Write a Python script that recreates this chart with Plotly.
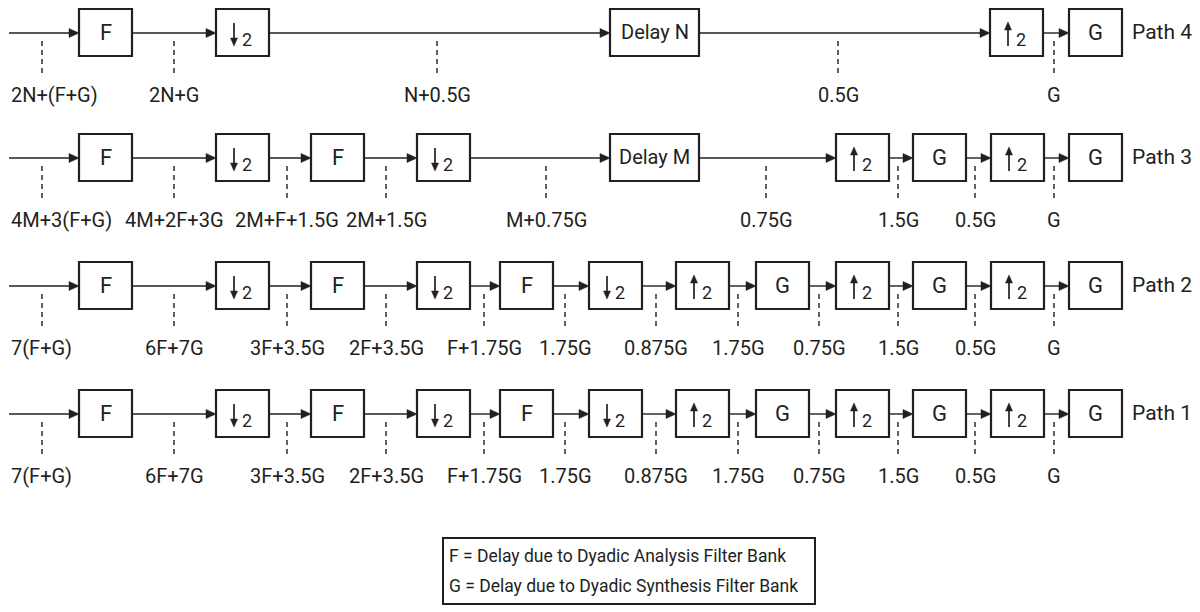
import plotly.graph_objects as go

# ---------------- data ----------------
path_names = ["Path 4", "Path 3", "Path 2", "Path 1"]

path4_blocks = ["F", "↓2", "Delay N", "↑2", "G"]
path4_delays = ["2N+(F+G)", "2N+G", "N+0.5G", "0.5G", "G"]

path3_blocks = ["F", "↓2", "F", "↓2", "Delay M", "↑2", "G", "↑2", "G"]
path3_delays = ["4M+3(F+G)", "4M+2F+3G", "2M+F+1.5G", "2M+1.5G", "M+0.75G",
                "0.75G", "1.5G", "0.5G", "G"]

path2_blocks = ["F", "↓2", "F", "↓2", "F", "↓2", "↑2", "G", "↑2", "G", "↑2", "G"]
path2_delays = ["7(F+G)", "6F+7G", "3F+3.5G", "2F+3.5G", "F+1.75G", "1.75G",
                "0.875G", "1.75G", "0.75G", "1.5G", "0.5G", "G"]

path1_blocks = ["F", "↓2", "F", "↓2", "F", "↓2", "↑2", "G", "↑2", "G", "↑2", "G"]
path1_delays = ["7(F+G)", "6F+7G", "3F+3.5G", "2F+3.5G", "F+1.75G", "1.75G",
                "0.875G", "1.75G", "0.75G", "1.5G", "0.5G", "G"]

legend_lines = ["F = Delay due to Dyadic Analysis Filter Bank",
                "G = Delay due to Dyadic Synthesis Filter Bank"]

# ---------------- layout (pixel-space placement) ----------------
PAGE_OFF = 8                     # default body margin of the html page
W, H = 1200, 612
row_y = [33, 158, 286, 414]
box_left = [
    [79, 216, 610, 990, 1069],
    [79, 216, 311, 417, 610, 836, 913, 991, 1069],
    [79, 216, 311, 417, 500, 589, 676, 756, 836, 913, 991, 1069],
    [79, 216, 311, 417, 500, 589, 676, 756, 836, 913, 991, 1069],
]
tap_x = [
    [42, 174, 437, 838, 1054],
    [42, 174, 287, 386, 546, 766, 898, 975, 1054],
    [42, 174, 287, 386, 484, 565, 656, 738, 819, 898, 975, 1054],
    [42, 174, 287, 386, 484, 565, 656, 738, 819, 898, 975, 1054],
]
blocks_all = [path4_blocks, path3_blocks, path2_blocks, path1_blocks]
delays_all = [path4_delays, path3_delays, path2_delays, path1_delays]

INK = "#231f20"
FONT = "Roboto, Arial, sans-serif"
FS = 20
start_x = 9
box_w = 53
delay_w = 89
box_up, box_dn = 24, 23

shapes = []
annos = []


def tri(xt, yt, direction, length=9, half=4):
    if direction == "right":
        p = f"M{xt},{yt} L{xt-length},{yt-half} L{xt-length},{yt+half} Z"
    elif direction == "down":
        p = f"M{xt},{yt} L{xt-half},{yt-length} L{xt+half},{yt-length} Z"
    else:
        p = f"M{xt},{yt} L{xt-half},{yt+length} L{xt+half},{yt+length} Z"
    shapes.append(dict(type="path", path=p, xref="x", yref="y",
                       fillcolor=INK, line=dict(color=INK, width=0.5)))


for r in range(4):
    y = row_y[r]
    prev_right = start_x
    for blk, bx in zip(blocks_all[r], box_left[r]):
        is_delay = blk.startswith("Delay")
        w = delay_w if is_delay else box_w
        shapes.append(dict(type="line", x0=prev_right, x1=bx - 2, y0=y, y1=y,
                           xref="x", yref="y", line=dict(color=INK, width=1.4)))
        tri(bx, y, "right", length=10, half=4.5)
        shapes.append(dict(type="rect", x0=bx, x1=bx + w, y0=y - box_up, y1=y + box_dn,
                           xref="x", yref="y", line=dict(color=INK, width=2.2),
                           fillcolor="white"))
        cx = bx + w / 2
        if blk in ("↓2", "↑2"):
            ax = bx + 18
            if blk == "↓2":
                shapes.append(dict(type="line", x0=ax, x1=ax, y0=y - 10, y1=y + 6,
                                   xref="x", yref="y", line=dict(color=INK, width=1.7)))
                tri(ax, y + 13, "down", length=8, half=3.5)
            else:
                shapes.append(dict(type="line", x0=ax, x1=ax, y0=y - 4, y1=y + 13,
                                   xref="x", yref="y", line=dict(color=INK, width=1.7)))
                tri(ax, y - 11, "up", length=8, half=3.5)
            annos.append(dict(x=bx + 31, y=y + 6, text="2", showarrow=False,
                              xref="x", yref="y", xanchor="center", yanchor="middle",
                              font=dict(family=FONT, size=18, color=INK)))
        else:
            annos.append(dict(x=cx, y=y - 1, text=blk, showarrow=False,
                              xref="x", yref="y", xanchor="center", yanchor="middle",
                              font=dict(family=FONT, size=FS if is_delay else 22,
                                        color=INK)))
        prev_right = bx + w
    for i, (lab, tx) in enumerate(zip(delays_all[r], tap_x[r])):
        shapes.append(dict(type="line", x0=tx, x1=tx, y0=y + 8, y1=y + 44,
                           xref="x", yref="y",
                           line=dict(color=INK, width=1.4, dash="5px,4px")))
        if i == 0:
            annos.append(dict(x=9, y=y + 62, text=lab, showarrow=False,
                              xref="x", yref="y", xanchor="left", yanchor="middle",
                              font=dict(family=FONT, size=FS, color=INK)))
        else:
            annos.append(dict(x=tx, y=y + 62, text=lab, showarrow=False,
                              xref="x", yref="y", xanchor="center", yanchor="middle",
                              font=dict(family=FONT, size=FS, color=INK)))
    annos.append(dict(x=1130, y=y - 1, text=path_names[r], showarrow=False,
                      xref="x", yref="y", xanchor="left", yanchor="middle",
                      font=dict(family=FONT, size=21, color=INK)))

# legend box
shapes.append(dict(type="rect", x0=443, x1=815, y0=538, y1=604, xref="x", yref="y",
                   line=dict(color=INK, width=2), fillcolor="rgba(0,0,0,0)"))
for i, t in enumerate(legend_lines):
    annos.append(dict(x=447, y=556 + 30 * i, text=t, showarrow=False,
                      xref="x", yref="y", xanchor="left", yanchor="middle",
                      font=dict(family=FONT, size=17.5, color=INK)))

fig = go.Figure()
fig.add_trace(go.Scatter(x=[PAGE_OFF, W], y=[PAGE_OFF, H], mode="markers",
                         marker=dict(opacity=0), hoverinfo="skip", showlegend=False))
fig.update_layout(
    width=W - PAGE_OFF, height=H - PAGE_OFF, margin=dict(l=0, r=0, t=0, b=0),
    paper_bgcolor="white", plot_bgcolor="white",
    xaxis=dict(range=[PAGE_OFF, W], visible=False, fixedrange=True),
    yaxis=dict(range=[H, PAGE_OFF], visible=False, fixedrange=True),
    shapes=shapes, annotations=annos, showlegend=False,
)
fig.write_html("out.html")
